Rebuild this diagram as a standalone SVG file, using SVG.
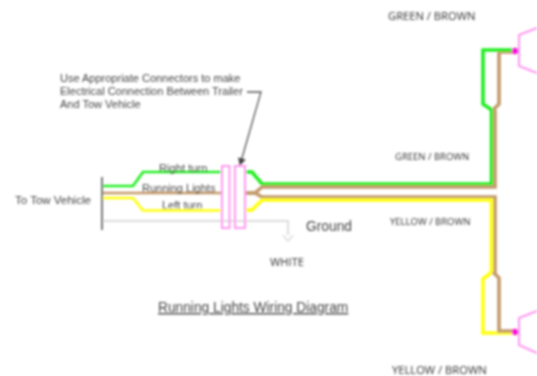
<svg xmlns="http://www.w3.org/2000/svg" width="537" height="376" viewBox="0 0 537 376">
<defs>
<filter id="soft" x="-5%" y="-5%" width="110%" height="110%"><feGaussianBlur stdDeviation="0.85"/></filter>
<marker id="arrow" markerWidth="9" markerHeight="9" refX="7" refY="4" orient="auto" markerUnits="userSpaceOnUse"><path d="M0,0L8,4L0,8z" fill="#444"/></marker>
</defs>
<style>
text{font-family:"Liberation Sans",Arial,sans-serif;fill:#444}
.a{font-size:11px}
.c{font-family:"Open Sans","Noto Sans",sans-serif;font-size:11.200px;fill:#333}
.m{font-size:9.500px}
.w{fill:none;stroke-width:3.600;stroke-linejoin:miter}
.t{stroke-width:2.700}
.g{stroke:#22ee22}.b{stroke:#c49a6c}.y{stroke:#ffff11}
.p{fill:none;stroke:#ff99f0;stroke-width:2}
</style>
<rect width="537" height="376" fill="#fff"/>
<g filter="url(#soft)">
<g id="connectors">
<path d="M103 221H288V235" fill="none" stroke="#ddd" stroke-width="2"/>
<path d="M283 235L288 241L293 235" fill="none" stroke="#ddd" stroke-width="1.500"/>
<path class="w t g" d="M103 186H133L143 172H222"/>
<path class="w t b" d="M103 193H222"/>
<path class="w t y" d="M103 198H133L143 210.500H222"/>
<path class="w g" d="M245 172H252L262 184H491.500V110"/>
<path class="w b" d="M245 193H255L262 187H495V110"/>
<path class="w b" d="M245 193H255L262 197H495V275"/>
<path class="w y" d="M245 210H252L262 200H491.500V272"/>
<path class="w b" d="M493 110L499 104V52H515"/>
<path class="w g" d="M492 110L483 104V50H515"/>
<path class="w y" d="M492 272L483 279V333H515"/>
<path class="w b" d="M493 272L499 278V331H515"/>
<path d="M247 92H261L240 165" fill="none" stroke="#555" stroke-width="1.300" marker-end="url(#arrow)"/>
</g>
<path d="M102 177V230" stroke="#777" stroke-width="2"/>
<g id="connector-left"><rect class="p" x="222" y="166" width="7.500" height="62"/></g>
<g id="connector-right"><rect class="p" x="235" y="166" width="10" height="62"/></g>
<g id="lamp-top"><path class="p" d="M537 28L519 35V66L537 73"/><circle cx="515" cy="51" r="3.200" fill="#ff11dd"/></g>
<g id="lamp-bottom"><path class="p" d="M537 311L519 318V345L537 353"/><circle cx="515" cy="332" r="3.200" fill="#ff11dd"/></g>
<text class="a" x="60" y="82">Use Appropriate Connectors to make</text>
<text class="a" x="60" y="95">Electrical Connection Between Trailer</text>
<text class="a" x="60" y="108">And Tow Vehicle</text>
<text class="a" x="15" y="204" style="font-size:11.500px">To Tow Vehicle</text>
<text class="a" x="159" y="172" style="font-size:11.200px">Right turn</text>
<text class="a" x="142" y="192">Running Lights</text>
<text class="a" x="162" y="209">Left turn</text>
<text x="306" y="231" font-size="13.800">Ground</text>
<text x="158" y="312" font-size="13.750" text-decoration="underline">Running Lights Wiring Diagram</text>
<text class="c" x="388" y="20">GREEN / BROWN</text>
<text class="c m" x="395" y="160">GREEN / BROWN</text>
<text class="c m" x="390" y="225">YELLOW / BROWN</text>
<text class="c" x="270" y="266">WHITE</text>
<text class="c" x="392" y="374">YELLOW / BROWN</text>
</g>
</svg>
